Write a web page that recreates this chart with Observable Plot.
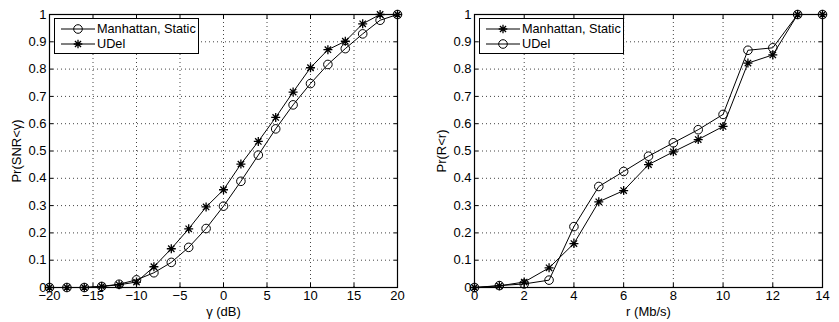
<!DOCTYPE html>
<html>
<head>
<meta charset="utf-8">
<script src="https://cdn.jsdelivr.net/npm/d3@7"></script>
<script src="https://cdn.jsdelivr.net/npm/@observablehq/plot@0.6"></script>
<style>
  html, body { margin: 0; padding: 0; background: #fff; }
  #wrap { position: relative; width: 839px; height: 322px; display: flex; font-family: "Liberation Sans", Arial, sans-serif; }
  #wrap svg { display: block; }
  #wrap svg text { font-family: "Liberation Sans", Arial, sans-serif !important; font-size: 13px !important; }
  .legend { position: absolute; top: 18px; width: 143px; height: 34px; border: 1px solid #000; background: #fff; font-size: 12.7px; }
  .legend .row { position: absolute; left: 0; height: 14px; display: flex; align-items: center; white-space: nowrap; width: 143px; }
  .legend .row svg { margin-left: 6px; flex: none; }
  .legend .row span { margin-left: 2px; color: #000; }
</style>
</head>
<body>
<div id="wrap"></div>
<script>
// ---- data ----
const gammaDb = [-20, -18, -16, -14, -12, -10, -8, -6, -4, -2, 0, 2, 4, 6, 8, 10, 12, 14, 16, 18, 20];
const manhattanSnr = [0, 0, 0, 0.004, 0.012, 0.028, 0.054, 0.092, 0.147, 0.216, 0.298, 0.389, 0.485, 0.581, 0.669, 0.747, 0.817, 0.875, 0.929, 0.979, 1.0];
const udelSnr = [0, 0, 0, 0.004, 0.01, 0.02, 0.076, 0.142, 0.215, 0.295, 0.358, 0.452, 0.535, 0.623, 0.716, 0.805, 0.871, 0.902, 0.966, 1.0, 1.0];

const rateMbps = [0, 1, 2, 3, 4, 5, 6, 7, 8, 9, 10, 11, 12, 13, 14];
const manhattanRate = [0, 0.006, 0.02, 0.072, 0.161, 0.314, 0.355, 0.45, 0.497, 0.542, 0.59, 0.822, 0.852, 1.0, 1.0];
const udelRate = [0, 0.007, 0.013, 0.027, 0.223, 0.37, 0.425, 0.481, 0.53, 0.578, 0.634, 0.869, 0.878, 1.0, 1.0];

const xTicksLeft = [-20, -15, -10, -5, 0, 5, 10, 15, 20];
const xTicksRight = [0, 2, 4, 6, 8, 10, 12, 14];
const yTicks = [0, 0.1, 0.2, 0.3, 0.4, 0.5, 0.6, 0.7, 0.8, 0.9, 1];

const leftNames = ["Manhattan, Static", "UDel"];
const rightNames = ["Manhattan, Static", "UDel"];

// 8-armed asterisk (MATLAB '*')
const asterisk = {
  draw(ctx, size) {
    const r = Math.sqrt(size / Math.PI);
    const d = r * Math.SQRT1_2;
    ctx.moveTo(-r, 0); ctx.lineTo(r, 0);
    ctx.moveTo(0, -r); ctx.lineTo(0, r);
    ctx.moveTo(-d, -d); ctx.lineTo(d, d);
    ctx.moveTo(-d, d); ctx.lineTo(d, -d);
  }
};

const fmtY = d => String(+d.toFixed(1));
const fmtX = d => d < 0 ? "\u2212" + Math.abs(d) : String(d);

function panel({width, marginLeft, marginRight, xDomain, xTicks, xLabel, yLabel, series}) {
  const marks = [
    Plot.gridX(xTicks, {stroke: "#444", strokeOpacity: 1, strokeDasharray: "1,3"}),
    Plot.gridY(yTicks, {stroke: "#444", strokeOpacity: 1, strokeDasharray: "1,3"}),
    Plot.axisX(xTicks, {anchor: "bottom", tickSize: 0, tickPadding: 3, tickFormat: fmtX, fontSize: 13, fill: "#000",
      label: xLabel, labelAnchor: "center", labelArrow: "none", labelOffset: 28}),
    Plot.axisY(yTicks, {anchor: "left", tickSize: 0, tickPadding: 3, tickFormat: fmtY, fontSize: 13, fill: "#000",
      label: yLabel, labelAnchor: "center", labelArrow: "none", labelOffset: 38}),
    Plot.axisX(xTicks, {anchor: "bottom", tickSize: -4, tickFormat: () => "", label: null, stroke: "#000"}),
    Plot.axisX(xTicks, {anchor: "top", tickSize: -4, tickFormat: () => "", label: null, stroke: "#000"}),
    Plot.axisY(yTicks, {anchor: "left", tickSize: -4, tickFormat: () => "", label: null, stroke: "#000"}),
    Plot.axisY(yTicks, {anchor: "right", tickSize: -4, tickFormat: () => "", label: null, stroke: "#000"}),
  ];
  for (const s of series) {
    const data = s.x.map((x, i) => ({x, y: s.y[i]}));
    marks.push(Plot.line(data, {x: "x", y: "y", stroke: "#000", strokeWidth: 1}));
    if (s.marker === "circle") {
      marks.push(Plot.dot(data, {x: "x", y: "y", r: 4.3, stroke: "#000", fill: "none", strokeWidth: 1}));
    } else {
      marks.push(Plot.dot(data, {x: "x", y: "y", r: 4.5, symbol: asterisk, stroke: "#000", fill: "none", strokeWidth: 1.3}));
    }
  }
  marks.push(Plot.frame({stroke: "#000", strokeWidth: 1.2}));
  return Plot.plot({
    width, height: 322,
    marginLeft, marginRight, marginTop: 14, marginBottom: 35,
    style: {fontFamily: "Liberation Sans, Arial, sans-serif", fontSize: "13px", color: "#000", background: "#fff", overflow: "visible"},
    x: {domain: xDomain},
    y: {domain: [0, 1]},
    marks
  });
}

const wrap = document.getElementById("wrap");
wrap.appendChild(panel({
  width: 420, marginLeft: 49, marginRight: 23,
  xDomain: [-20, 20], xTicks: xTicksLeft, xLabel: "\u03b3 (dB)", yLabel: "Pr(SNR<\u03b3)",
  series: [
    {x: gammaDb, y: manhattanSnr, marker: "circle"},
    {x: gammaDb, y: udelSnr, marker: "star"}
  ]
}));
wrap.appendChild(panel({
  width: 419, marginLeft: 54, marginRight: 17,
  xDomain: [0, 14], xTicks: xTicksRight, xLabel: "r (Mb/s)", yLabel: "Pr(R<r)",
  series: [
    {x: rateMbps, y: manhattanRate, marker: "star"},
    {x: rateMbps, y: udelRate, marker: "circle"}
  ]
}));

// legends
function sample(marker) {
  const w = 34, h = 14, cx = 17, cy = 7, r = 4.3, d = r * Math.SQRT1_2;
  let m;
  if (marker === "circle") m = `<circle cx="${cx}" cy="${cy}" r="${r}" fill="none" stroke="#000"/>`;
  else m = `<path d="M${cx-r},${cy}H${cx+r}M${cx},${cy-r}V${cy+r}M${cx-d},${cy-d}L${cx+d},${cy+d}M${cx-d},${cy+d}L${cx+d},${cy-d}" stroke="#000" stroke-width="1.3" fill="none"/>`;
  return `<svg width="${w}" height="${h}"><line x1="0" x2="${w}" y1="${cy}" y2="${cy}" stroke="#000"/>${m}</svg>`;
}
function legend(left, names, markers) {
  const div = document.createElement("div");
  div.className = "legend";
  div.style.left = left + "px";
  div.innerHTML = names.map((n, i) =>
    `<div class="row" style="top:${3 + i * 15}px">${sample(markers[i])}<span>${n}</span></div>`).join("");
  wrap.appendChild(div);
}
legend(54, leftNames, ["circle", "star"]);
legend(479, rightNames, ["star", "circle"]);
</script>
</body>
</html>
